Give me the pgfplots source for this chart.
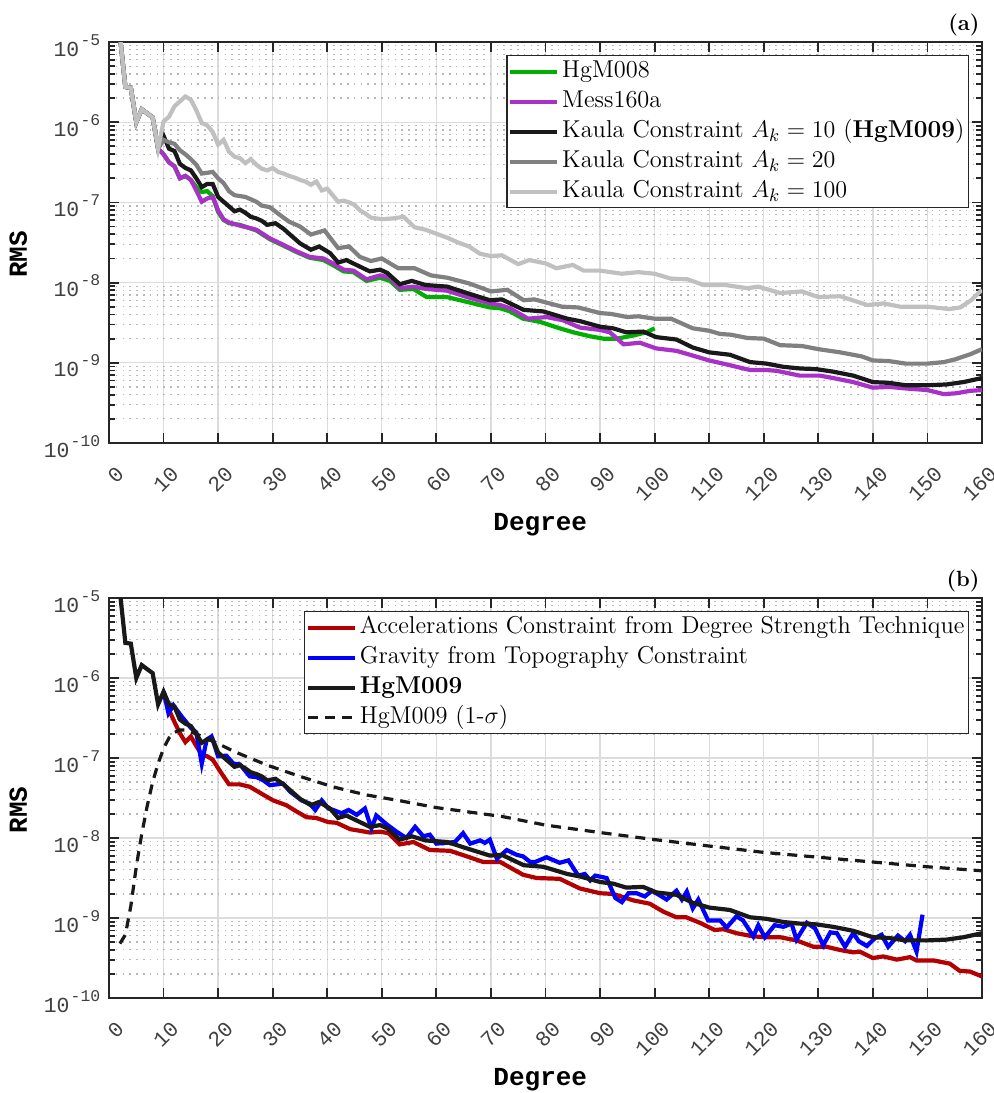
\documentclass[border=0pt]{standalone}
\usepackage{pgfplots}
\pgfplotsset{compat=1.18}
\usepackage{fontspec}
\setmonofont{Liberation Mono}
\definecolor{cgreen}{RGB}{0,175,0}
\definecolor{cpurple}{RGB}{168,50,200}
\definecolor{cblack}{RGB}{25,25,25}
\definecolor{cgrey}{RGB}{128,128,128}
\definecolor{clgrey}{RGB}{192,192,192}
\definecolor{cred}{RGB}{180,0,0}
\definecolor{cblue}{RGB}{0,0,255}
\definecolor{axisgray}{RGB}{38,38,38}
\definecolor{tickgray}{RGB}{64,64,64}
\definecolor{gridgray}{RGB}{220,220,220}
\definecolor{minorgray}{RGB}{185,185,185}
\newcommand{\ylab}[1]{10\hspace{0.6pt}\raisebox{5.5pt}{\fontsize{8.2}{9}\selectfont -#1}}
\pgfplotsset{
  every axis/.append style={
    /pgf/number format/assume math mode=true,
    scale only axis, width=436.5pt,
    xmin=0, xmax=160, ymin=1e-10, ymax=1e-5,
    xtick={0,10,...,160},
    xticklabels={0,10,20,30,40,50,60,70,80,90,100,110,120,130,140,150,160},
    ytick={1e-10,1e-9,1e-8,1e-7,1e-6,1e-5},
    yticklabels={\ylab{10},\ylab{9},\ylab{8},\ylab{7},\ylab{6},\ylab{5}},
    xticklabel style={font=\ttfamily\fontsize{10.7}{12}\selectfont, text=tickgray, inner sep=0pt, xshift=5.8pt, yshift=-13.5pt, rotate=45, anchor=east},
    yticklabel style={font=\ttfamily\fontsize{10.7}{12}\selectfont, text=tickgray, inner sep=0pt, anchor=base east, xshift=-4.2pt, yshift=-7pt},
    axis line style={line width=1pt, color=axisgray},
    major tick length=5pt, minor tick length=3.2pt,
    tick align=inside,
    tick style={line width=0.9pt, color=axisgray},
    xmajorgrids, ymajorgrids, yminorgrids,
    major grid style={line width=0.65pt, color=gridgray},
    minor grid style={line width=0.6pt, color=minorgray, dash pattern=on 0.8pt off 2.6pt},
    clip mode=individual,
    xlabel style={at={(axis description cs:0.494,0)}, anchor=base, yshift=-43.5pt, inner sep=0pt},
    ylabel style={at={(axis description cs:-0.104,0.47)}, anchor=center, inner sep=0pt},
    legend cell align=left,
    legend style={at={(1,1)}, anchor=north east, xshift=-6.5pt, yshift=-6.5pt,
      draw=axisgray, line width=0.6pt, fill=white, inner xsep=0.5pt, inner ysep=0.5pt,
      font=\fontsize{12.2}{14}\selectfont,
      nodes={inner ysep=1pt, inner xsep=1.5pt, text height=9.5pt, text depth=3.5pt}},
  },
  legend image code/.code={\draw[#1] (0pt,0pt) -- (23.5pt,0pt);},
}
\begin{document}
\begin{tikzpicture}
\path[use as bounding box] (0pt,0pt) rectangle (497pt,546.5pt);
% ---------------- panel (a)
\begin{axis}[ymode=log, height=200.5pt, at={(54.5pt,325pt)}, anchor=south west,
  xlabel={\ttfamily\bfseries\fontsize{13}{15}\selectfont Degree},
  ylabel={\ttfamily\bfseries\fontsize{13}{15}\selectfont RMS}]
\addplot[cgreen, line width=2.1pt] coordinates {(2,1.20e-5)(3,2.75e-6)(4,2.69e-6)(5,1.00e-6)(6,1.45e-6)(7,1.29e-6)(8,1.15e-6)(9,4.68e-7)(10,3.98e-7)(11,3.16e-7)(12,2.82e-7)(13,2.00e-7)(14,2.14e-7)(15,1.91e-7)(16,1.55e-7)(17,1.35e-7)(18,1.38e-7)(19,1.20e-7)(20,7.59e-8)(21,6.03e-8)(22,5.50e-8)(24,5.25e-8)(27,4.47e-8)(29.5,3.47e-8)(32,2.88e-8)(34.4,2.40e-8)(36.8,2.04e-8)(39.3,1.91e-8)(41,1.66e-8)(43,1.38e-8)(44.8,1.35e-8)(47.2,1.05e-8)(49.7,1.15e-8)(51.5,1.05e-8)(53.3,8.13e-9)(55.8,8.32e-9)(58.2,6.61e-9)(61.9,6.61e-9)(65.6,5.75e-9)(69.8,4.90e-9)(71.7,4.79e-9)(73.5,4.37e-9)(75.9,3.55e-9)(79,3.24e-9)(82.6,2.69e-9)(85.1,2.40e-9)(88.2,2.14e-9)(90.6,2.00e-9)(93.1,2.00e-9)(96.1,2.19e-9)(98.5,2.40e-9)(100,2.69e-9)};
\addlegendentry{HgM008}
\addplot[cpurple, line width=2.1pt] coordinates {(2,1.20e-5)(3,2.75e-6)(4,2.69e-6)(5,1.00e-6)(6,1.45e-6)(7,1.29e-6)(8,1.15e-6)(9,4.68e-7)(10,3.98e-7)(11,3.16e-7)(12,2.82e-7)(13,2.00e-7)(14,2.14e-7)(15,1.91e-7)(16,1.41e-7)(17,1.02e-7)(18,1.12e-7)(19,1.17e-7)(20,7.94e-8)(21,6.17e-8)(22,5.62e-8)(24,5.13e-8)(27,4.57e-8)(29.5,3.55e-8)(32,2.95e-8)(34.4,2.45e-8)(36.8,2.09e-8)(39.3,2.00e-8)(41,1.74e-8)(43,1.45e-8)(44.8,1.41e-8)(47.2,1.10e-8)(49.7,1.23e-8)(51.5,1.15e-8)(53.3,8.51e-9)(55.8,8.91e-9)(58.2,8.32e-9)(61.9,7.94e-9)(65.6,6.61e-9)(69.8,5.50e-9)(71.7,5.25e-9)(73.5,4.79e-9)(76.8,3.55e-9)(80.2,3.72e-9)(83.2,3.39e-9)(86.3,2.75e-9)(90,2.57e-9)(91.8,2.40e-9)(94.3,1.70e-9)(97.3,1.78e-9)(100.3,1.51e-9)(104,1.41e-9)(107,1.23e-9)(110,1.07e-9)(113.8,9.33e-10)(117.5,8.13e-10)(120.5,8.13e-10)(122.4,7.94e-10)(126.6,6.92e-10)(130.3,6.92e-10)(132.7,6.46e-10)(136.4,5.75e-10)(140,4.90e-10)(143,5.01e-10)(146,4.79e-10)(150,4.57e-10)(153,4.07e-10)(155.3,4.17e-10)(157.8,4.47e-10)(160,4.57e-10)};
\addlegendentry{Mess160a}
\addplot[cblack, line width=2.1pt] coordinates {(2,1.20e-5)(3,2.75e-6)(4,2.69e-6)(5,1.00e-6)(6,1.45e-6)(7,1.29e-6)(8,1.15e-6)(9,4.68e-7)(10,6.76e-7)(11,4.68e-7)(12,4.37e-7)(13,3.02e-7)(14,2.69e-7)(15,2.51e-7)(16,2.00e-7)(17,1.55e-7)(18,1.70e-7)(19,1.70e-7)(20,1.17e-7)(21,1.02e-7)(22,8.91e-8)(23,7.76e-8)(24,8.13e-8)(25,7.41e-8)(26,6.61e-8)(27,6.31e-8)(28,5.89e-8)(29,5.25e-8)(30.5,5.50e-8)(32,4.68e-8)(33,4.07e-8)(34,3.55e-8)(35,3.09e-8)(37,2.57e-8)(38.5,2.82e-8)(40.5,2.34e-8)(42,1.78e-8)(43.5,1.91e-8)(46,1.58e-8)(47.8,1.38e-8)(49.7,1.45e-8)(51,1.32e-8)(53.3,9.55e-9)(55.5,1.05e-8)(58,9.33e-9)(62,8.91e-9)(65.6,7.41e-9)(69.8,6.03e-9)(72,6.17e-9)(76,4.57e-9)(79.6,4.37e-9)(84,3.55e-9)(86.3,3.31e-9)(90,2.82e-9)(92.4,2.69e-9)(94.8,2.40e-9)(97.9,2.45e-9)(100.3,2.09e-9)(104,1.95e-9)(107,1.55e-9)(110,1.35e-9)(113.8,1.26e-9)(117.5,1.02e-9)(120.5,9.77e-10)(123.6,8.91e-10)(126.6,8.51e-10)(129.7,8.32e-10)(132.7,7.76e-10)(136.4,6.92e-10)(140,5.75e-10)(143,5.62e-10)(146,5.25e-10)(150,5.25e-10)(153.5,5.37e-10)(156.6,5.75e-10)(160,6.46e-10)};
\addlegendentry{Kaula Constraint $A_k=10$ (\textbf{HgM009})}
\addplot[cgrey, line width=2.1pt] coordinates {(2,1.20e-5)(3,2.75e-6)(4,2.69e-6)(5,1.00e-6)(6,1.45e-6)(7,1.29e-6)(8,1.15e-6)(9,4.68e-7)(10,6.03e-7)(11,5.62e-7)(12,5.37e-7)(13,4.47e-7)(14,3.98e-7)(15,3.47e-7)(16,2.95e-7)(17,2.29e-7)(18,2.34e-7)(19,2.40e-7)(20,2.00e-7)(21,1.74e-7)(22,1.38e-7)(23,1.23e-7)(25,1.17e-7)(27,1.02e-7)(28,9.12e-8)(29.5,8.71e-8)(31,7.24e-8)(33,5.75e-8)(35,5.01e-8)(37,3.98e-8)(39.5,4.47e-8)(42,2.69e-8)(44,2.82e-8)(46,2.09e-8)(48,1.86e-8)(50,2.00e-8)(53,1.51e-8)(56,1.51e-8)(59,1.23e-8)(62,1.15e-8)(66,9.77e-9)(70,7.76e-9)(73,8.13e-9)(76,6.03e-9)(78,6.17e-9)(83,5.01e-9)(86,4.90e-9)(90,4.17e-9)(92,4.07e-9)(95,3.72e-9)(97,3.80e-9)(100,3.55e-9)(103,3.55e-9)(107,2.69e-9)(110,2.51e-9)(112,2.29e-9)(114,2.24e-9)(117,2.04e-9)(120,2.00e-9)(123,1.66e-9)(127,1.62e-9)(130,1.48e-9)(134,1.35e-9)(138,1.20e-9)(140,1.07e-9)(143,1.05e-9)(146,9.77e-10)(150,9.77e-10)(153,1.02e-9)(155,1.10e-9)(158,1.29e-9)(160,1.48e-9)};
\addlegendentry{Kaula Constraint $A_k=20$}
\addplot[clgrey, line width=2.1pt] coordinates {(2,1.20e-5)(3,2.75e-6)(4,2.69e-6)(5,1.00e-6)(6,1.45e-6)(7,1.29e-6)(8,1.15e-6)(9,4.68e-7)(10,1.02e-6)(11,1.17e-6)(12,1.58e-6)(13,1.82e-6)(14,2.09e-6)(15,1.91e-6)(16,1.41e-6)(17,9.77e-7)(18,9.12e-7)(19,7.59e-7)(20,5.25e-7)(21,6.03e-7)(22,4.27e-7)(23,3.72e-7)(24,3.55e-7)(25,3.09e-7)(26,3.47e-7)(27,2.95e-7)(28,2.63e-7)(29,2.51e-7)(30,2.69e-7)(31,2.40e-7)(32,2.29e-7)(33,2.14e-7)(34,2.04e-7)(35,1.91e-7)(36,1.82e-7)(37,1.66e-7)(38,1.82e-7)(39,1.41e-7)(40,1.48e-7)(41,1.23e-7)(42,1.02e-7)(43,1.05e-7)(44,1.00e-7)(45,9.33e-8)(46,7.94e-8)(47,7.24e-8)(48,6.46e-8)(50,6.17e-8)(52,6.31e-8)(54,6.61e-8)(56,4.90e-8)(58,4.57e-8)(60,4.07e-8)(62,3.63e-8)(64,3.16e-8)(66,2.82e-8)(68,2.29e-8)(70,2.14e-8)(72,2.19e-8)(75,1.70e-8)(77,1.91e-8)(80,1.74e-8)(82,1.51e-8)(85,1.66e-8)(87,1.41e-8)(90,1.41e-8)(94,1.29e-8)(97,1.35e-8)(100,1.29e-8)(103,1.12e-8)(106,1.10e-8)(109,9.33e-9)(113,9.33e-9)(117,8.51e-9)(119,8.91e-9)(123,7.41e-9)(127,7.76e-9)(130,6.61e-9)(134,6.76e-9)(139,5.25e-9)(142,5.50e-9)(145,5.01e-9)(150,5.01e-9)(154,4.68e-9)(156,4.90e-9)(158,6.03e-9)(160,8.13e-9)};
\addlegendentry{Kaula Constraint $A_k=100$}
\node[anchor=base east, inner sep=0pt, xshift=-1pt, yshift=6pt, font=\bfseries\fontsize{11}{13}\selectfont] at (rel axis cs:1,1) {(a)};
\end{axis}
% ---------------- panel (b)
\begin{axis}[ymode=log, height=200pt, at={(54.5pt,47.5pt)}, anchor=south west,
  xlabel={\ttfamily\bfseries\fontsize{13}{15}\selectfont Degree},
  ylabel={\ttfamily\bfseries\fontsize{13}{15}\selectfont RMS}]
\addplot[cred, line width=2.1pt] coordinates {(10,6.76e-7)(11,3.98e-7)(12,2.82e-7)(13,2.04e-7)(14,1.58e-7)(15,1.86e-7)(16,1.41e-7)(17,1.10e-7)(18,1.05e-7)(19,9.55e-8)(20.6,6.46e-8)(22,4.68e-8)(24,4.68e-8)(25.8,4.37e-8)(28.3,3.47e-8)(30.1,2.95e-8)(32.5,2.57e-8)(34.4,2.14e-8)(36.2,1.82e-8)(38,1.78e-8)(40.2,1.58e-8)(41.7,1.55e-8)(44.2,1.29e-8)(46,1.23e-8)(47.8,1.17e-8)(49.7,1.20e-8)(51.2,1.15e-8)(53.3,8.32e-9)(55.8,8.91e-9)(58.8,7.08e-9)(62.5,6.92e-9)(65.6,5.89e-9)(68.6,5.01e-9)(71.7,5.01e-9)(75.9,3.47e-9)(78.4,3.16e-9)(82.6,3.09e-9)(86.3,2.34e-9)(90,2.04e-9)(92.4,2.00e-9)(96.1,1.66e-9)(99.1,1.51e-9)(101.6,1.20e-9)(104,1.02e-9)(105.8,1.02e-9)(108.3,8.71e-10)(111,7.08e-10)(112.6,7.24e-10)(115,6.46e-10)(118.1,5.89e-10)(120.5,5.75e-10)(123,5.75e-10)(126,5.25e-10)(129.1,4.37e-10)(131.5,4.37e-10)(134,3.98e-10)(136.4,3.72e-10)(137.6,3.80e-10)(140,3.16e-10)(141.9,3.31e-10)(144.4,3.02e-10)(146.8,3.24e-10)(148,2.95e-10)(151.1,2.95e-10)(154.1,2.69e-10)(155.9,2.19e-10)(157.8,2.14e-10)(160,1.86e-10)};
\addlegendentry{Accelerations Constraint from Degree Strength Technique}
\addplot[cblue, line width=2.1pt] coordinates {(10,6.76e-7)(10.9,3.63e-7)(11.8,4.57e-7)(13.3,3.31e-7)(15.1,2.34e-7)(16,2.09e-7)(17,8.51e-8)(17.9,1.70e-7)(18.8,1.86e-7)(20,1.05e-7)(21.5,1.07e-7)(22.8,8.51e-8)(24,8.32e-8)(25.8,5.89e-8)(27.1,5.75e-8)(28.3,5.25e-8)(29.5,4.57e-8)(31.9,4.79e-8)(33.2,3.80e-8)(35.3,2.95e-8)(36.8,2.69e-8)(37.8,2.24e-8)(39,2.95e-8)(40.2,2.34e-8)(41.1,2.24e-8)(42.6,2.04e-8)(43.9,2.24e-8)(45.4,1.95e-8)(46.9,2.34e-8)(48.1,1.32e-8)(49,1.91e-8)(50.9,1.48e-8)(52.7,1.20e-8)(54.5,1.00e-8)(56.1,1.38e-8)(57.6,1.05e-8)(58.8,1.10e-8)(60,8.51e-9)(61.9,8.71e-9)(63.4,8.91e-9)(64.9,1.15e-8)(66.2,8.51e-9)(68,9.33e-9)(68.9,8.71e-9)(69.8,9.55e-9)(71.1,5.50e-9)(72.9,7.08e-9)(74.7,6.17e-9)(75.9,5.89e-9)(77.2,5.01e-9)(78.1,5.01e-9)(80.2,5.75e-9)(82.6,4.90e-9)(84.2,5.25e-9)(86,3.39e-9)(87.2,3.55e-9)(88.2,2.95e-9)(89.1,3.39e-9)(91.2,3.16e-9)(92.8,1.78e-9)(94,1.58e-9)(95.2,2.04e-9)(96.7,2.04e-9)(98.2,1.86e-9)(99.5,2.19e-9)(101,1.91e-9)(102.2,1.70e-9)(104,2.19e-9)(105,1.70e-9)(105.9,2.14e-9)(107,1.32e-9)(108,1.70e-9)(109.8,9.33e-10)(112,9.33e-10)(113.2,7.59e-10)(115,1.05e-9)(116.2,9.33e-10)(118.1,5.89e-10)(119,8.13e-10)(120.2,5.75e-10)(122,8.13e-10)(123.6,7.76e-10)(125.1,8.51e-10)(126,5.37e-10)(127.9,8.71e-10)(129.4,7.41e-10)(130.9,4.57e-10)(132.2,6.61e-10)(133.4,6.46e-10)(134.9,4.37e-10)(136.4,6.46e-10)(137.4,5.13e-10)(138.9,4.47e-10)(140.4,5.62e-10)(141.6,6.17e-10)(142.8,4.37e-10)(144.6,6.03e-10)(145.9,5.13e-10)(146.8,6.17e-10)(148,3.80e-10)(149.1,1.10e-9)};
\addlegendentry{Gravity from Topography Constraint}
\addplot[cblack, line width=2.1pt] coordinates {(2,1.20e-5)(3,2.75e-6)(4,2.69e-6)(5,1.00e-6)(6,1.45e-6)(7,1.29e-6)(8,1.15e-6)(9,4.68e-7)(10,6.76e-7)(11,4.68e-7)(12,4.37e-7)(13,3.02e-7)(14,2.69e-7)(15,2.51e-7)(16,2.00e-7)(17,1.55e-7)(18,1.70e-7)(19,1.70e-7)(20,1.17e-7)(21,1.02e-7)(22,8.91e-8)(23,7.76e-8)(24,8.13e-8)(25,7.41e-8)(26,6.61e-8)(27,6.31e-8)(28,5.89e-8)(29,5.25e-8)(30.5,5.50e-8)(32,4.68e-8)(33,4.07e-8)(34,3.55e-8)(35,3.09e-8)(37,2.57e-8)(38.5,2.82e-8)(40.5,2.34e-8)(42,1.78e-8)(43.5,1.91e-8)(46,1.58e-8)(47.8,1.38e-8)(49.7,1.45e-8)(51,1.32e-8)(53.3,9.55e-9)(55.5,1.05e-8)(58,9.33e-9)(62,8.91e-9)(65.6,7.41e-9)(69.8,6.03e-9)(72,6.17e-9)(76,4.57e-9)(79.6,4.37e-9)(84,3.55e-9)(86.3,3.31e-9)(90,2.82e-9)(92.4,2.69e-9)(94.8,2.40e-9)(97.9,2.45e-9)(100.3,2.09e-9)(104,1.95e-9)(107,1.55e-9)(110,1.35e-9)(113.8,1.26e-9)(117.5,1.02e-9)(120.5,9.77e-10)(123.6,8.91e-10)(126.6,8.51e-10)(129.7,8.32e-10)(132.7,7.76e-10)(136.4,6.92e-10)(140,5.75e-10)(143,5.62e-10)(146,5.25e-10)(150,5.25e-10)(153.5,5.37e-10)(156.6,5.75e-10)(160,6.46e-10)};
\addlegendentry{\textbf{HgM009}}
\addplot[cblack, line width=1.6pt, dash pattern=on 5pt off 3.5pt] coordinates {(2,4.79e-10)(3,6.17e-10)(4,1.41e-9)(5,4.37e-9)(6,1.12e-8)(7,2.51e-8)(8,5.01e-8)(9,8.51e-8)(10,1.32e-7)(11,1.78e-7)(12,2.09e-7)(13,2.24e-7)(14,2.24e-7)(16,2.00e-7)(20,1.51e-7)(23,1.20e-7)(29,8.13e-8)(35,5.89e-8)(41,4.37e-8)(47,3.47e-8)(53,2.95e-8)(60,2.40e-8)(72,1.86e-8)(80,1.45e-8)(90,1.17e-8)(100,9.55e-9)(110,7.94e-9)(120,6.61e-9)(130,5.75e-9)(140,5.01e-9)(150,4.37e-9)(160,3.89e-9)};
\addlegendentry{HgM009 (1-$\sigma$)}
\node[anchor=base east, inner sep=0pt, xshift=-1pt, yshift=6pt, font=\bfseries\fontsize{11}{13}\selectfont] at (rel axis cs:1,1) {(b)};
\end{axis}
\end{tikzpicture}
\end{document}
